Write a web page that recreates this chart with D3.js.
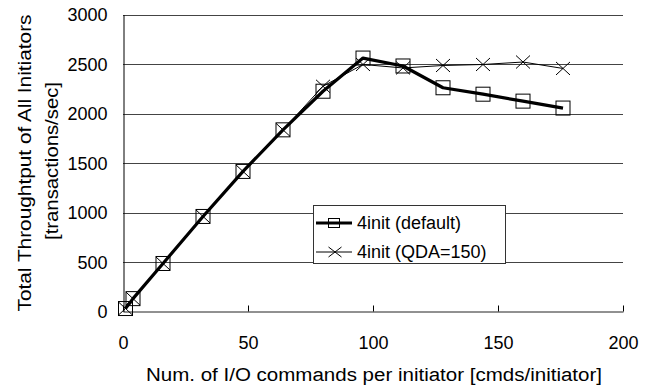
<!DOCTYPE html>
<html>
<head>
<meta charset="utf-8">
<script src="https://cdn.jsdelivr.net/npm/d3@7"></script>
<style>
  body { margin: 0; background: #fff; }
  text { font-family: "Liberation Sans", Arial, sans-serif; fill: #000; }
</style>
</head>
<body>
<div class="chartContainer"></div>
<script>
// commands per initiator
const cmds = [1, 4, 16, 32, 48, 64, 80, 96, 112, 128, 144, 160, 176];
// throughput, default settings
const defaultTput = [30, 130, 485, 960, 1415, 1835, 2225, 2560, 2480, 2260, 2195, 2125, 2055];
// throughput, QDA=150
const qdaTput = [30, 130, 485, 960, 1415, 1835, 2275, 2495, 2460, 2485, 2495, 2520, 2455];

const xTicks = [0, 50, 100, 150, 200];
const yTicks = [0, 500, 1000, 1500, 2000, 2500, 3000];
const seriesNames = ['4init (default)', '4init (QDA=150)'];

document.addEventListener('DOMContentLoaded', function() {
  const w = 650;
  const h = 385;
  const left = 123, right = 623, top = 14.5, bottom = 311.5;

  const xScale = d3.scaleLinear().domain([0, 200]).range([left, right]);
  const yScale = d3.scaleLinear().domain([0, 3000]).range([bottom, top]);

  const svg = d3.select('.chartContainer')
    .append('svg')
    .attr('width', w)
    .attr('height', h);

  // horizontal grid lines
  svg.append('g')
    .selectAll('line')
    .data(yTicks.slice(1))
    .enter()
    .append('line')
    .attr('x1', left)
    .attr('x2', right)
    .attr('y1', (d) => Math.round(yScale(d)) + 0.5)
    .attr('y2', (d) => Math.round(yScale(d)) + 0.5)
    .attr('stroke', '#444')
    .attr('stroke-width', 1);

  const xAxis = d3.axisBottom(xScale).tickValues(xTicks).tickSizeInner(-6).tickSizeOuter(0).tickPadding(24);
  const yAxis = d3.axisLeft(yScale).tickValues(yTicks).tickFormat(d3.format('d')).tickSize(0).tickPadding(16);

  const gx = svg.append('g')
    .attr('transform', 'translate(0,' + bottom + ')')
    .call(xAxis);
  gx.select('.domain').attr('stroke', '#222');
  gx.selectAll('.tick line').attr('stroke', '#000');
  gx.selectAll('.tick text').style('font-size', '18px').attr('dy', '0.75em');

  const gy = svg.append('g')
    .attr('transform', 'translate(' + (left + 0.5) + ',0)')
    .call(yAxis);
  gy.select('.domain').attr('stroke', '#000');
  gy.selectAll('.tick text').style('font-size', '18px').attr('dy', '0.35em');

  const line = d3.line()
    .x((d) => xScale(d[0]))
    .y((d) => yScale(d[1]));

  const defPts = cmds.map((c, i) => [c, defaultTput[i]]);
  const qdaPts = cmds.map((c, i) => [c, qdaTput[i]]);

  // default series: thick line, open squares
  svg.append('path')
    .datum(defPts)
    .attr('d', line)
    .attr('fill', 'none')
    .attr('stroke', '#000')
    .attr('stroke-width', 3.2)
    .attr('stroke-linejoin', 'round');

  svg.append('g')
    .selectAll('rect')
    .data(defPts)
    .enter()
    .append('rect')
    .attr('x', (d) => xScale(d[0]) - 7)
    .attr('y', (d) => yScale(d[1]) - 7)
    .attr('width', 14)
    .attr('height', 14)
    .attr('fill', 'none')
    .attr('stroke', '#000')
    .attr('stroke-width', 1);

  // QDA series: thin line, x markers
  svg.append('path')
    .datum(qdaPts)
    .attr('d', line)
    .attr('fill', 'none')
    .attr('stroke', '#000')
    .attr('stroke-width', 1);

  const cross = (sx, sy) => 'M' + (-sx) + ',' + (-sy) + 'L' + sx + ',' + sy + 'M' + (-sx) + ',' + sy + 'L' + sx + ',' + (-sy);

  svg.append('g')
    .selectAll('path')
    .data(qdaPts)
    .enter()
    .append('path')
    .attr('transform', (d) => 'translate(' + xScale(d[0]) + ',' + yScale(d[1]) + ')')
    .attr('d', cross(7, 6.5))
    .attr('stroke', '#000')
    .attr('stroke-width', 1);

  // axis titles
  svg.append('text')
    .attr('x', 374)
    .attr('y', 381)
    .attr('text-anchor', 'middle')
    .attr('textLength', 456)
    .attr('lengthAdjust', 'spacingAndGlyphs')
    .style('font-size', '18px')
    .text('Num. of I/O commands per initiator [cmds/initiator]');

  svg.append('text')
    .attr('transform', 'translate(31,163)rotate(-90)')
    .attr('text-anchor', 'middle')
    .attr('textLength', 297)
    .attr('lengthAdjust', 'spacingAndGlyphs')
    .style('font-size', '18px')
    .text('Total Throughtput of All Initiators');

  svg.append('text')
    .attr('transform', 'translate(58,161)rotate(-90)')
    .attr('text-anchor', 'middle')
    .attr('textLength', 158)
    .attr('lengthAdjust', 'spacingAndGlyphs')
    .style('font-size', '18px')
    .text('[transactions/sec]');

  // legend
  const legend = svg.append('g').attr('id', 'legend');
  legend.append('rect')
    .attr('x', 313.5)
    .attr('y', 205.5)
    .attr('width', 192)
    .attr('height', 58)
    .attr('fill', '#fff')
    .attr('stroke', '#333')
    .attr('stroke-width', 1);

  const rows = legend.selectAll('.row')
    .data(seriesNames)
    .enter()
    .append('g')
    .attr('class', 'row')
    .attr('transform', (d, i) => 'translate(0,' + (223 + i * 29) + ')');

  rows.append('line')
    .attr('x1', 316)
    .attr('x2', 352)
    .attr('y1', 0)
    .attr('y2', 0)
    .attr('stroke', '#000')
    .attr('stroke-width', (d, i) => i === 0 ? 3.2 : 1);

  rows.filter((d, i) => i === 0)
    .append('rect')
    .attr('x', 328.5)
    .attr('y', -4.5)
    .attr('width', 11)
    .attr('height', 9)
    .attr('fill', 'none')
    .attr('stroke', '#000');

  rows.filter((d, i) => i === 1)
    .append('path')
    .attr('transform', 'translate(335,0)')
    .attr('d', cross(6.5, 5))
    .attr('stroke', '#000');

  rows.append('text')
    .attr('x', 357)
    .attr('y', 0)
    .attr('dy', '0.35em')
    .style('font-size', '18px')
    .text((d) => d);
});
</script>
</body>
</html>
